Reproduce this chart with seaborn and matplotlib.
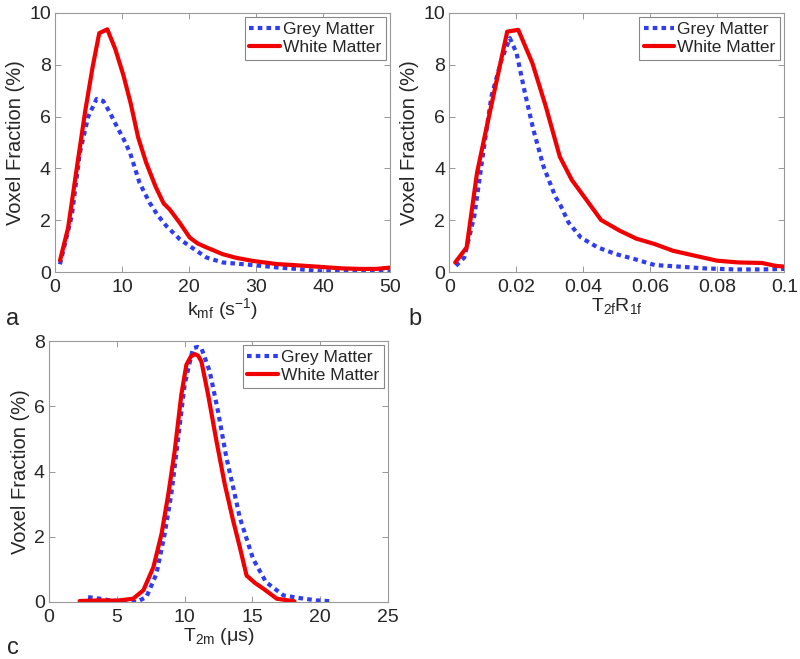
"""
Voxel fraction histograms for grey and white matter (three parameters).
"""

import matplotlib
matplotlib.use("Agg")
import matplotlib.pyplot as plt
import seaborn as sns

# Panel a: k_mf
kmf_wm_x = [0.75, 1.95, 3.3, 4.5, 5.6, 6.6, 7.8, 9.0, 10.2, 11.3, 12.4, 13.6, 15.0,
            16.2, 17.1, 18.6, 20.1, 21.3, 22.6, 25.0, 27.0, 29.5, 33.0, 35.5, 38.4,
            42.9, 45.5, 47.9, 49.9]
kmf_wm_y = [0.45, 1.7, 4.1, 6.2, 7.9, 9.22, 9.37, 8.6, 7.6, 6.5, 5.2, 4.22, 3.3,
            2.65, 2.42, 1.9, 1.33, 1.1, 0.95, 0.69, 0.55, 0.43, 0.31, 0.27, 0.22,
            0.14, 0.12, 0.12, 0.17]
kmf_gm_x = [0.74, 2.5, 3.7, 4.96, 6.2, 7.2, 8.2, 9.2, 10.2, 11.2, 12.6, 14.1, 15.3,
            16.6, 18.6, 20.1, 22.6, 25.0, 29.5, 33.0, 36.5, 39.5, 45.0, 50.0]
kmf_gm_y = [0.3, 2.17, 4.6, 6.0, 6.68, 6.6, 6.15, 5.63, 5.15, 4.6, 3.45, 2.68, 2.2,
            1.78, 1.27, 1.0, 0.56, 0.37, 0.27, 0.18, 0.11, 0.03, 0.02, 0.02]

# Panel b: T2f R1f
t2r_wm_x = [0.0018, 0.0052, 0.0083, 0.0108, 0.0138, 0.0173, 0.0206, 0.0248, 0.0288,
            0.0330, 0.0366, 0.0408, 0.0453, 0.0508, 0.0558, 0.0613, 0.0668, 0.0733,
            0.0798, 0.0863, 0.0933, 0.0973, 0.1]
t2r_wm_y = [0.37, 0.95, 3.83, 5.37, 7.17, 9.28, 9.35, 8.07, 6.4, 4.45, 3.55, 2.81,
            2.01, 1.6, 1.29, 1.08, 0.82, 0.63, 0.44, 0.37, 0.35, 0.24, 0.21]
t2r_gm_x = [0.002, 0.0045, 0.0075, 0.01, 0.0126, 0.0156, 0.0181, 0.0201, 0.0226,
            0.0251, 0.0281, 0.0316, 0.0333, 0.0356, 0.0393, 0.0443, 0.0498, 0.0553,
            0.0613, 0.0673, 0.0763, 0.0853, 0.0933, 0.1]
t2r_gm_y = [0.24, 0.56, 2.17, 4.47, 6.78, 8.19, 9.03, 8.45, 6.91, 5.5, 4.09, 2.93,
            2.55, 1.91, 1.33, 0.95, 0.69, 0.5, 0.27, 0.22, 0.14, 0.1, 0.1, 0.12]

# Panel c: T2m
t2m_wm_x = [2.26, 3.74, 5.0, 6.2, 6.96, 7.7, 8.3, 8.8, 9.27, 9.76, 10.13, 10.45, 10.75,
            11.0, 11.24, 11.73, 12.35, 12.96, 13.58, 14.07, 14.57, 15.2, 15.8, 16.8, 18.1]
t2m_wm_y = [0.03, 0.05, 0.04, 0.1, 0.36, 1.07, 2.09, 3.31, 4.63, 6.36, 7.27, 7.52, 7.6,
            7.55, 7.37, 6.36, 4.93, 3.61, 2.49, 1.68, 0.81, 0.58, 0.41, 0.1, 0.02]
t2m_gm_x = [2.88, 3.74, 4.5, 6.44, 7.18, 7.92, 8.53, 9.02, 9.5, 10.0, 10.62, 10.95,
            11.24, 11.85, 12.46, 13.08, 13.69, 14.06, 15.05, 16.0, 17.3, 18.5, 19.7, 20.97]
t2m_gm_y = [0.15, 0.1, 0.05, 0.0, 0.15, 0.86, 2.09, 3.31, 4.93, 6.66, 7.78, 7.82,
            7.78, 7.07, 5.85, 4.43, 3.31, 2.6, 1.32, 0.61, 0.2, 0.12, 0.05, 0.02]

series_labels = ["Grey Matter", "White Matter"]
GM_COLOR = "#2f3cf0"
WM_COLOR = "#f00000"

sns.set_style("ticks")
plt.rcParams["font.family"] = ["Liberation Sans", "DejaVu Sans"]
plt.rcParams["mathtext.default"] = "regular"
plt.rcParams["xtick.direction"] = "in"
plt.rcParams["ytick.direction"] = "in"


def draw_panel(ax, gm_x, gm_y, wm_x, wm_y, xlim, ylim, xticks, yticks, xlabel, xtick_labels=None):
    sns.lineplot(x=gm_x, y=gm_y, ax=ax, color=GM_COLOR, lw=3.0,
                 linestyle=(0, (1.1, 1.0)), label=series_labels[0],
                 estimator=None, sort=False)
    sns.lineplot(x=wm_x, y=wm_y, ax=ax, color=WM_COLOR, lw=3.0,
                 label=series_labels[1], estimator=None, sort=False)
    ax.set_xlim(*xlim)
    ax.set_ylim(*ylim)
    ax.set_xticks(xticks)
    if xtick_labels is not None:
        ax.set_xticklabels(xtick_labels)
    ax.set_yticks(yticks)
    ax.set_xlabel(xlabel, fontsize=14, labelpad=0)
    ax.set_ylabel("Voxel Fraction (%)", fontsize=14.5, labelpad=3)
    ax.tick_params(axis="both", labelsize=14, length=4, width=0.6, color="#888888",
                   top=True, right=True)
    ax.tick_params(axis="x", pad=5)
    ax.tick_params(axis="y", pad=3)
    for s in ax.spines.values():
        s.set_color("#999999")
        s.set_linewidth(0.8)
    leg = ax.legend(loc="upper right", fontsize=12.5, frameon=True, fancybox=False,
                    framealpha=1, edgecolor="#888888", handlelength=1.75,
                    handletextpad=0.2, labelspacing=0.2, borderpad=0.25,
                    borderaxespad=0.25)
    leg.get_frame().set_linewidth(0.8)


fig = plt.figure(figsize=(8.0, 6.59), dpi=100)
ax_a = fig.add_axes([0.06875, 0.5872, 0.419, 0.3931])
ax_b = fig.add_axes([0.5615, 0.5872, 0.419, 0.3931])
ax_c = fig.add_axes([0.06125, 0.0865, 0.4238, 0.3960])

draw_panel(ax_a, kmf_gm_x, kmf_gm_y, kmf_wm_x, kmf_wm_y, (0, 50), (0, 10),
           [0, 10, 20, 30, 40, 50], [0, 2, 4, 6, 8, 10], r"k$_{mf}$ (s$^{-1}$)")
draw_panel(ax_b, t2r_gm_x, t2r_gm_y, t2r_wm_x, t2r_wm_y, (0, 0.1), (0, 10),
           [0, 0.02, 0.04, 0.06, 0.08, 0.1], [0, 2, 4, 6, 8, 10], r"T$_{2f}$R$_{1f}$",
           xtick_labels=["0", "0.02", "0.04", "0.06", "0.08", "0.1"])
draw_panel(ax_c, t2m_gm_x, t2m_gm_y, t2m_wm_x, t2m_wm_y, (0, 25), (0, 8),
           [0, 5, 10, 15, 20, 25], [0, 2, 4, 6, 8], r"T$_{2m}$ (μs)")

fig.text(13 / 800, 1 - 319 / 659, "a", fontsize=17, ha="center", va="center")
fig.text(415 / 800, 1 - 319 / 659, "b", fontsize=17, ha="center", va="center")
fig.text(13 / 800, 1 - 648 / 659, "c", fontsize=17, ha="center", va="center")

fig.savefig("out.png", dpi=100)
